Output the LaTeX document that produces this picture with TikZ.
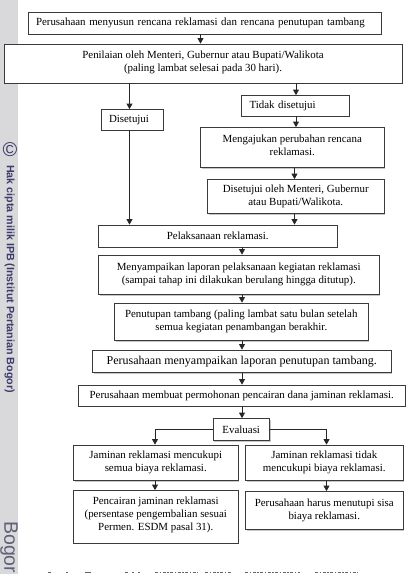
\documentclass[tikz,border=0pt]{standalone}
\usepackage{fontspec}
\setmainfont{Liberation Serif}
\newfontfamily\stripfont{Liberation Sans}
\usetikzlibrary{arrows.meta,calc}
\definecolor{edgecol}{HTML}{3A3A3A}
\definecolor{stripcol}{HTML}{D9D9DB}
\definecolor{wmark}{HTML}{3B3A6B}
\definecolor{wmarkb}{HTML}{5F6078}
\tikzset{
  box/.style={draw=edgecol,line width=0.8pt,fill=white,inner sep=0pt,align=center,font=\fontsize{10.9}{13}\selectfont,anchor=center},
  arr/.style={draw=black!85,line width=0.8pt,-{Triangle[length=5.5pt,width=6pt]}},
  lft/.style={align=left,text width=\bw pt-2*#1 pt,inner xsep=#1 pt},
  big/.style={font=\fontsize{12}{13}\selectfont}
}
\newcommand{\lift}[1]{\rule[-#1pt]{0pt}{#1pt}}
\newcommand{\mybox}[7]{%
  \pgfmathsetmacro{\bw}{#4-#2}\pgfmathsetmacro{\bh}{#5-#3}%
  \pgfmathsetmacro{\bcx}{(#2+#4)/2}\pgfmathsetmacro{\bcy}{(#3+#5)/2}%
  \fill[black!22] (#2+1,#3+1) rectangle (#4+1,#5+1);
  \node[box,minimum width=\bw pt,minimum height=\bh pt,#6] (#1) at (\bcx,\bcy) {#7};
}
\begin{document}
\begin{tikzpicture}[x=1pt,y=-1pt]
\useasboundingbox (0,0) rectangle (412,574);
\fill[white] (0,0) rectangle (412,574);
\fill[stripcol] (0,0) rectangle (18,574);
% watermark
\node[text=wmark,font=\stripfont\fontsize{20}{21}\selectfont,inner sep=0pt] (copy) at (10,150) {©};
\node[text=wmark,font=\stripfont\bfseries\fontsize{10.7}{12}\selectfont,rotate=-90,anchor=west,inner sep=0pt] (hak) at (9.5,165) {Hak cipta milik IPB (Institut Pertanian Bogor)};
\node[text=wmarkb,font=\stripfont\fontsize{19.5}{21}\selectfont,rotate=-90,anchor=west,inner sep=0pt] (bogor) at (9,521) {Bogor};
% boxes
\mybox{a}{28.5}{12.5}{381}{34}{lft=7.5}{Perusahaan menyusun rencana reklamasi dan rencana penutupan tambang}
\mybox{b}{4}{44}{402}{83}{}{Penilaian oleh Menteri, Gubernur atau Bupati/Walikota\\(paling lambat selesai pada 30 hari).\lift{4}}
\mybox{t}{241}{95.5}{349}{116}{lft=8.5}{Tidak disetujui}
\mybox{d}{101}{109.5}{163}{130}{lft=8}{Disetujui}
\mybox{m}{200.5}{127.5}{384}{167.5}{}{Mengajukan perubahan rencana\\reklamasi.\lift{4}}
\mybox{o}{207.5}{179.5}{384}{213.5}{}{Disetujui oleh Menteri, Gubernur\\atau Bupati/Walikota.}
\mybox{p}{98.5}{225}{337}{247}{}{Pelaksanaan reklamasi.}
\mybox{l}{98.5}{255}{379}{294.5}{}{Menyampaikan laporan pelaksanaan kegiatan reklamasi\\(sampai tahap ini dilakukan berulang hingga ditutup).\lift{4}}
\mybox{n}{114.5}{303}{368}{340.5}{}{Penutupan tambang (paling lambat satu bulan setelah\\semua kegiatan penambangan berakhir.\lift{4}}
\mybox{r}{92.5}{350}{391}{372.5}{big}{Perusahaan menyampaikan laporan penutupan tambang.}
\mybox{s}{78.5}{385}{405}{406}{}{Perusahaan membuat permohonan pencairan dana jaminan reklamasi.}
\mybox{e}{213}{418.5}{269.5}{440.5}{}{Evaluasi}
\mybox{jl}{73.5}{445}{238}{480.5}{}{Jaminan reklamasi mencukupi\\semua biaya reklamasi.}
\mybox{jr}{245.5}{445}{403}{480.5}{}{Jaminan reklamasi tidak\\mencukupi biaya reklamasi.}
\mybox{c}{73.5}{490.5}{238}{543}{}{Pencairan jaminan reklamasi\\(persentase pengembalian sesuai\\Permen. ESDM pasal 31).\lift{6}}
\mybox{h}{245.5}{491.5}{403}{529.5}{}{Perusahaan harus menutupi sisa\\biaya reklamasi.\lift{2}}
% column positions for connectors
\coordinate (xab) at (200.5,0);
\coordinate (xd) at (129.5,0);
\coordinate (xt) at (296,0);
\coordinate (xo) at (294.5,0);
\coordinate (xp) at (242,0);
\coordinate (xl) at (155,0);
\coordinate (xr) at (326.5,0);
% connectors
\draw[arr] (a.south -| xab) -- (b.north -| xab);
\draw[arr] (b.south -| xd) -- (d.north -| xd);
\draw[arr] (b.south -| xt) -- (t.north -| xt);
\draw[arr] (t.south -| xt) -- (m.north -| xt);
\draw[arr] (m.south -| xo) -- (o.north -| xo);
\draw[arr] (d.south -| xd) -- (p.north -| xd);
\draw[arr] (o.south -| xo) -- (p.north -| xo);
\draw[arr] (p.south -| xp) -- (l.north -| xp);
\draw[arr] (l.south -| xp) -- (n.north -| xp);
\draw[arr] (n.south -| xp) -- (r.north -| xp);
\draw[arr] (r.south -| xp) -- (s.north -| xp);
\draw[arr] (s.south -| xp) -- (e.north -| xp);
\draw[arr] (e.west) -| (jl.north -| xl);
\draw[arr] (e.east) -| (jr.north -| xr);
\draw[arr] (jl.south -| xl) -- (c.north -| xl);
\draw[arr] (jr.south -| xr) -- (h.north -| xr);
% tops of a line cut off at the lower edge
\draw[black!60,line width=1pt]
  (48,572.5) -- (51,572.5) (66,572.5) -- (68,572.5) (85,572.5) -- (91,572.5)
  (125,572.5) -- (128,572.5) (132,572.5) -- (134,572.5) (138,572.5) -- (140,572.5);
\draw[black!60,line width=1pt,dash pattern=on 3pt off 1.5pt on 1.5pt off 1.5pt]
  (155,572.5) -- (198,572.5) (205,572.5) -- (232,572.5)
  (245,572.5) -- (300,572.5) (315,572.5) -- (358,572.5);
\end{tikzpicture}
\end{document}
